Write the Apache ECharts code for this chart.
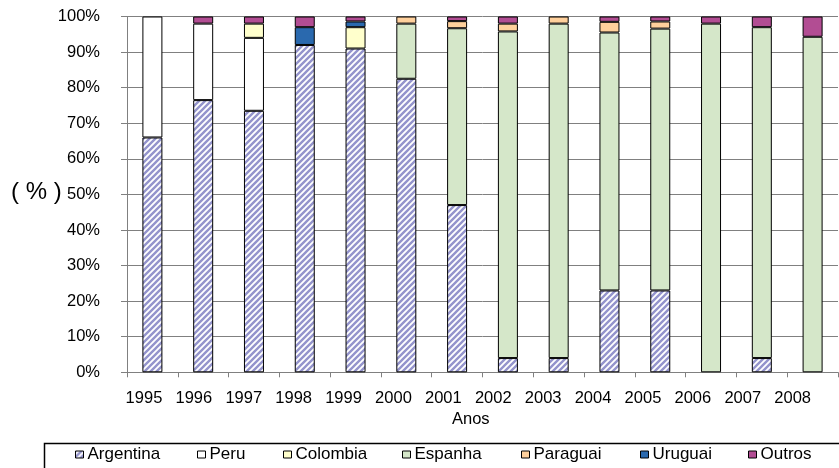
<!DOCTYPE html>
<html>
<head>
<meta charset="utf-8">
<script src="https://cdn.jsdelivr.net/npm/echarts@6/dist/echarts.min.js"></script>
<style>
html,body{margin:0;padding:0;background:#fff;}
#chart{width:839px;height:468px;}
</style>
</head>
<body>
<div id="chart"></div>
<script>
const years = ['1995','1996','1997','1998','1999','2000','2001','2002','2003','2004','2005','2006','2007','2008'];
const argentina = [66, 76.5, 73.5, 92, 91, 82.5, 47, 4, 4, 23, 23, 0, 4, 0];
const peru      = [34, 21.5, 20.5, 0, 0, 0, 0, 0, 0, 0, 0, 0, 0, 0];
const colombia  = [0, 0, 4, 0, 6, 0, 0, 0, 0, 0, 0, 0, 0, 0];
const espanha   = [0, 0, 0, 0, 0, 15.5, 49.7, 91.8, 94, 72.5, 73.6, 98, 93, 94.3];
const paraguai  = [0, 0, 0, 0, 0, 2, 2, 2.2, 2, 3, 2, 0, 0, 0];
const uruguai   = [0, 0, 0, 5, 1.6, 0, 0, 0, 0, 0, 0, 0, 0, 0];
const outros    = [0, 2, 2, 3, 1.4, 0, 1.3, 2, 0, 1.5, 1.4, 2, 3, 5.7];
const yTicks = [0,10,20,30,40,50,60,70,80,90,100];

function hatch(){
  const c = document.createElement('canvas');
  c.width = 6; c.height = 6;
  const g = c.getContext('2d');
  g.fillStyle = '#ffffff'; g.fillRect(0,0,6,6);
  g.strokeStyle = '#9494cc'; g.lineWidth = 2.4;
  g.beginPath();
  g.moveTo(0,6); g.lineTo(6,0);
  g.moveTo(-1,1); g.lineTo(1,-1);
  g.moveTo(5,7); g.lineTo(7,5);
  g.stroke();
  return {image: c, repeat: 'repeat'};
}

const seriesDefs = [
  {name:'Argentina', data: argentina, color: hatch()},
  {name:'Peru', data: peru, color: '#ffffff'},
  {name:'Colombia', data: colombia, color: '#ffffcc'},
  {name:'Espanha', data: espanha, color: '#d5e7c9'},
  {name:'Paraguai', data: paraguai, color: '#ffd09c'},
  {name:'Uruguai', data: uruguai, color: '#2a69ae'},
  {name:'Outros', data: outros, color: '#b24d93'}
];
const legendLeft = [75, 197, 283, 402, 521, 640, 748];

const chart = echarts.init(document.getElementById('chart'), null, {renderer:'canvas'});
const font = 'Liberation Sans, Arial, sans-serif';

const option = {
  animation: false,
  textStyle: {fontFamily: font},
  grid: [
    {left: 127, right: 1, top: 16.5, bottom: 95.7, containLabel: false},
    {left: 119, width: 698.6, top: 16.5, bottom: 95.7, containLabel: false}
  ],
  xAxis: [
    {type:'category', gridIndex:0, data: years,
     axisLine:{show:true, lineStyle:{color:'#808080', width:1}},
     axisTick:{show:true, length:5, alignWithLabel:false, lineStyle:{color:'#808080'}},
     axisLabel:{show:false}},
    {type:'category', gridIndex:1, data: years,
     axisLine:{show:false}, axisTick:{show:false},
     axisLabel:{show:true, margin:18, fontSize:16.5, color:'#000', fontFamily: font}}
  ],
  yAxis: [
    {type:'value', gridIndex:0, min:0, max:100, interval:10,
     axisLine:{show:true, lineStyle:{color:'#808080', width:1}},
     axisTick:{show:true, length:6, inside:false, lineStyle:{color:'#808080'}},
     splitLine:{show:true, lineStyle:{color:'#808080', width:1}},
     axisLabel:{margin:27, fontSize:16.5, color:'#000', fontFamily: font,
       formatter: v => yTicks.includes(v) ? v + '%' : ''}},
    {type:'value', gridIndex:1, min:0, max:100, show:false}
  ],
  legend: seriesDefs.map((s, i) => ({
    data: [s.name], left: legendLeft[i], top: 446, padding: 0,
    itemWidth: 8, itemHeight: 7, itemGap: 0, icon: 'rect',
    itemStyle: {borderColor:'#000', borderWidth:1},
    textStyle: {fontSize:17, color:'#000', fontFamily: font, padding:[0,0,0,-1]}
  })),
  series: seriesDefs.map(s => ({
    name: s.name, type:'bar', stack:'total', xAxisIndex:0, yAxisIndex:0,
    barWidth: 20,
    data: s.data.map(v => v === 0 ? null : v),
    itemStyle: {color: s.color, borderColor:'#000', borderWidth:1}
  })),
  graphic: [
    {type:'text', left: 11, top: 180, style:{text:'( % )', font:'24px ' + font, fill:'#000'}},
    {type:'text', left: 452, top: 411, style:{text:'Anos', font:'16.5px ' + font, fill:'#000'}},
    {type:'rect', left: 42, top: 441, shape:{width: 820, height: 40}, z: -1,
     style:{fill:'none', stroke:'#000', lineWidth:1.5}}
  ]
};
chart.setOption(option);
</script>
</body>
</html>
